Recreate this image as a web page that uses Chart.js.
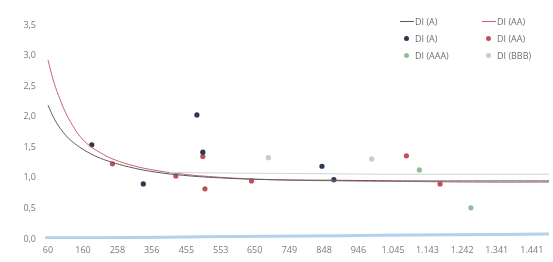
<!DOCTYPE html>
<html>
<head>
<meta charset="utf-8">
<script src="https://cdn.jsdelivr.net/npm/chart.js@4/dist/chart.umd.min.js"></script>
<style>
  html, body { margin: 0; padding: 0; background: #fff; }
  #wrap { position: relative; width: 553px; height: 262px; }
  #legend {
    position: absolute; left: 400px; top: 15px;
    display: grid; grid-template-columns: 82px 70px; row-gap: 5px;
    font: 9px "Open Sans", sans-serif; color: #6f6f6f;
  }
  #legend span.item { display: flex; align-items: center; white-space: nowrap; height: 12px; }
  #legend i { display: inline-block; margin-right: 3px; }
</style>
</head>
<body>
<div id="wrap">
  <canvas id="chart" width="553" height="262"></canvas>
  <div id="legend"></div>
</div>
<script>
// x tick labels shown under the axis
var xTicks = [60, 160, 258, 356, 455, 553, 650, 749, 848, 946, 1045, 1143, 1242, 1341, 1441];

// scatter points per rating
var pointsAX = [185, 332, 485, 502, 842, 876];
var pointsAY = [1.54, 0.90, 2.03, 1.42, 1.19, 0.97];
var pointsAAX = [244, 425, 502, 508, 641, 1083, 1179];
var pointsAAY = [1.23, 1.03, 1.35, 0.82, 0.95, 1.36, 0.90];
var pointsAAAX = [1120, 1267];
var pointsAAAY = [1.13, 0.51];
var pointsBBBX = [689, 984];
var pointsBBBY = [1.33, 1.31];

// fitted curves
var curveX = [60, 75, 90, 110, 130, 151, 180, 210, 240, 290, 350, 430, 550, 700, 900, 1100, 1300, 1490];
var curveAY = [2.19, 2.00, 1.85, 1.70, 1.59, 1.50, 1.40, 1.32, 1.26, 1.18, 1.11, 1.05, 1.00, 0.97, 0.96, 0.95, 0.95, 0.95];
var curveAAY = [2.93, 2.60, 2.35, 2.07, 1.86, 1.68, 1.52, 1.41, 1.32, 1.22, 1.14, 1.07, 1.01, 0.97, 0.95, 0.94, 0.93, 0.93];

// faint extra line above the curves
var faintX = [406, 550, 800, 1000, 1200, 1490];
var faintY = [1.09, 1.08, 1.07, 1.06, 1.06, 1.06];

// light blue band along zero
var bandX = [52, 200, 400, 600, 800, 1000, 1200, 1490];
var bandY = [0.02, 0.02, 0.03, 0.04, 0.05, 0.06, 0.07, 0.08];

function zip(xs, ys) {
  return xs.map(function (x, i) { return { x: x, y: ys[i] }; });
}

function lineSet(label, xs, ys, color, width, inLegend) {
  return {
    label: label, data: zip(xs, ys), showLine: true, borderColor: color,
    backgroundColor: color, borderWidth: width, pointRadius: 0, tension: 0.4,
    legendLine: inLegend
  };
}
function pointSet(label, xs, ys, color) {
  return {
    label: label, data: zip(xs, ys), showLine: false, borderColor: color,
    backgroundColor: color, pointRadius: 2.6, pointBorderWidth: 0, legendPoint: true
  };
}

var datasets = [
  lineSet('band', bandX, bandY, 'rgba(160,196,232,0.8)', 3, false),
  lineSet('faint', faintX, faintY, '#c9d6d6', 1, false),
  lineSet('DI (A)', curveX, curveAY, '#555a60', 1, true),
  lineSet('DI (AA)', curveX, curveAAY, '#c9646c', 1, true),
  pointSet('DI (A)', pointsAX, pointsAY, '#2e3650'),
  pointSet('DI (AA)', pointsAAX, pointsAAY, '#c0505c'),
  pointSet('DI (AAA)', pointsAAAX, pointsAAAY, '#8fbf96'),
  pointSet('DI (BBB)', pointsBBBX, pointsBBBY, '#c6cdd0')
];

var chart = new Chart(document.getElementById('chart').getContext('2d'), {
  type: 'scatter',
  data: { datasets: datasets },
  options: {
    responsive: false,
    animation: false,
    layout: { padding: { left: 15, top: 25, right: 0, bottom: 0 } },
    plugins: { legend: { display: false }, tooltip: { enabled: false } },
    scales: {
      x: {
        type: 'linear', min: 51.5, max: 1490,
        grid: { display: false, drawTicks: false }, border: { display: false },
        afterBuildTicks: function (scale) {
          scale.ticks = xTicks.map(function (v) { return { value: v }; });
        },
        afterFit: function (scale) { scale.height = 23; },
        ticks: {
          autoSkip: false, maxRotation: 0, padding: 6,
          color: '#7a7a7a', font: { family: 'Open Sans', size: 9 },
          callback: function (v) { return v.toLocaleString('de-DE'); }
        }
      },
      y: {
        min: 0, max: 3.5,
        grid: { display: false, drawTicks: false }, border: { display: false },
        afterFit: function (scale) { scale.width = 30; },
        ticks: {
          stepSize: 0.5, padding: 9,
          color: '#7a7a7a', font: { family: 'Open Sans', size: 9 },
          callback: function (v) { return v.toFixed(1).replace('.', ','); }
        }
      }
    }
  }
});

// two-column legend like the original
var lines = datasets.filter(function (d) { return d.legendLine; });
var pts = datasets.filter(function (d) { return d.legendPoint; });
var legend = document.getElementById('legend');
lines.concat(pts).forEach(function (d) {
  var item = document.createElement('span');
  item.className = 'item';
  var mark = document.createElement('i');
  if (d.legendLine) {
    mark.style.cssText = 'width:14px;height:1px;margin-right:1px;background:' + d.borderColor;
  } else {
    mark.style.cssText = 'width:5px;height:5px;border-radius:50%;margin:0 6px 0 4px;background:' + d.backgroundColor;
  }
  item.appendChild(mark);
  item.appendChild(document.createTextNode(d.label));
  legend.appendChild(item);
});
</script>
</body>
</html>
